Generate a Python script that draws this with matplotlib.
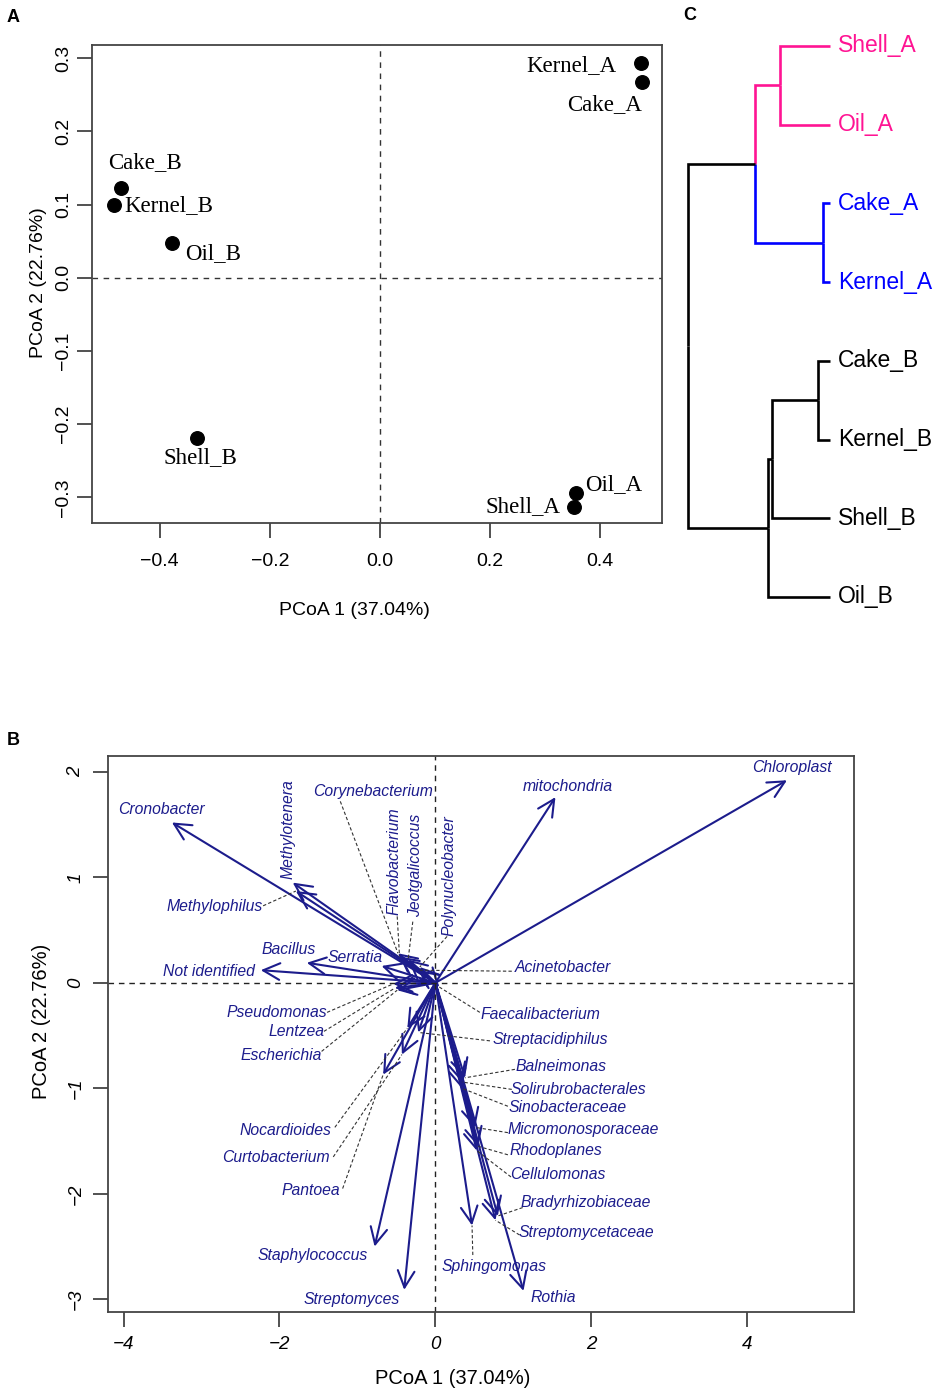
import numpy as np
import matplotlib
matplotlib.use('Agg')
import matplotlib.pyplot as plt
from matplotlib.patches import FancyArrowPatch

plt.rcParams['font.family'] = ['Liberation Sans', 'DejaVu Sans']

# ---- panel A: PCoA of samples ----
samples = ['Kernel_A', 'Cake_A', 'Cake_B', 'Kernel_B', 'Oil_B', 'Shell_B', 'Oil_A', 'Shell_A']
pc1 = [0.474, 0.475, -0.470, -0.483, -0.377, -0.332, 0.356, 0.352]
pc2 = [0.294, 0.267, 0.122, 0.099, 0.047, -0.219, -0.294, -0.313]
# label placement (data units)
lab_a_x = [0.348, 0.408, -0.426, -0.383, -0.303, -0.327, 0.425, 0.260]
lab_a_y = [0.290, 0.237, 0.158, 0.098, 0.033, -0.245, -0.283, -0.312]

# ---- panel C: dendrogram ----
leaves = ['Shell_A', 'Oil_A', 'Cake_A', 'Kernel_A', 'Cake_B', 'Kernel_B', 'Shell_B', 'Oil_B']
# merges: (child1, child2, height); node ids continue after the leaves
merges = [(0, 1, 0.352), (2, 3, 0.049), (8, 9, 0.53), (4, 5, 0.085),
          (11, 6, 0.408), (12, 7, 0.437), (10, 13, 1.0)]
pink = '#FF1493'
blue = '#0000FF'
edge_col = {0: pink, 1: pink, 8: pink, 2: blue, 3: blue, 9: blue}

# ---- panel B: biplot of taxa ----
taxa = ['Chloroplast', 'mitochondria', 'Cronobacter', 'Methylotenera', 'Methylophilus',
        'Corynebacterium', 'Flavobacterium', 'Jeotgalicoccus', 'Polynucleobacter',
        'Bacillus', 'Serratia', 'Not identified', 'Acinetobacter', 'Pseudomonas',
        'Lentzea', 'Escherichia', 'Faecalibacterium', 'Streptacidiphilus', 'Balneimonas',
        'Solirubrobacterales', 'Sinobacteraceae', 'Micromonosporaceae', 'Rhodoplanes',
        'Cellulomonas', 'Bradyrhizobiaceae', 'Streptomycetaceae', 'Sphingomonas', 'Rothia',
        'Staphylococcus', 'Streptomyces', 'Nocardioides', 'Curtobacterium', 'Pantoea']
tip_x = [4.51, 1.54, -3.38, -1.83, -1.79, -0.48, -0.46, -0.35, -0.20, -1.65, -0.69, -2.24,
         -0.22, -0.54, -0.52, -0.49, 0.05, -0.22, 0.38, 0.34, 0.34, 0.51, 0.55, 0.53, 0.80,
         0.77, 0.47, 1.13, -0.78, -0.40, -0.36, -0.43, -0.67]
tip_y = [1.92, 1.76, 1.52, 0.95, 0.87, 0.28, 0.25, 0.22, 0.15, 0.19, 0.16, 0.12, 0.12, -0.01,
         -0.05, -0.07, -0.04, -0.47, -0.90, -0.94, -1.00, -1.37, -1.55, -1.59, -2.21, -2.25,
         -2.30, -2.92, -2.50, -2.91, -0.43, -0.68, -0.87]
# label centres
lab_x = [4.57, 1.70, -3.51, -1.89, -2.83, -0.80, -0.53, -0.26, 0.17, -1.88, -1.03, -2.90,
         1.63, -2.04, -1.78, -1.98, 1.35, 1.47, 1.61, 1.84, 1.70, 1.89, 1.54, 1.57, 1.93,
         1.94, 0.75, 1.51, -1.57, -1.07, -1.92, -2.04, -1.60]
lab_y = [2.04, 1.86, 1.64, 1.46, 0.72, 1.81, 1.15, 1.11, 1.02, 0.32, 0.24, 0.11, 0.15, -0.28,
         -0.46, -0.69, -0.30, -0.54, -0.79, -1.01, -1.18, -1.39, -1.59, -1.82, -2.08, -2.37,
         -2.69, -2.98, -2.58, -3.00, -1.40, -1.66, -1.97]
lab_rot = [0, 0, 0, 90, 0, 0, 90, 90, 90] + [0] * 24
# start of the dashed leader next to the label (nan = no leader)
nan = np.nan
lead_x = [nan, nan, nan, nan, -2.21, -1.22, -0.49, -0.29, 0.15, nan, nan, nan, 0.98, -1.39,
          -1.43, -1.46, 0.57, 0.70, 1.02, 0.98, 0.93, 0.93, 0.93, 0.97, 1.12, 1.08, 0.48,
          nan, nan, nan, -1.29, -1.31, -1.19]
lead_y = [nan, nan, nan, nan, 0.73, 1.72, 0.63, 0.58, 0.44, nan, nan, nan, 0.11, -0.28,
          -0.46, -0.65, -0.28, -0.55, -0.82, -1.01, -1.17, -1.42, -1.63, -1.84, -2.13, -2.39,
          -2.58, nan, nan, nan, -1.37, -1.65, -1.95]

navy = '#1c1c8c'

fig = plt.figure(figsize=(9.35, 13.95), dpi=100)


def px_axes(l, t, r, b):
    return fig.add_axes([l / 935, 1 - b / 1395, (r - l) / 935, (b - t) / 1395])


def style_axes(ax, xpad, ypad, size):
    for s in ax.spines.values():
        s.set_color('#444444')
        s.set_linewidth(1.3)
    ax.tick_params(direction='out', length=10.5, width=1.2, color='#333333',
                   labelsize=size, labelcolor='black')
    ax.tick_params(axis='x', pad=xpad)
    ax.tick_params(axis='y', pad=ypad, labelrotation=90)
    for lab in ax.get_yticklabels():
        lab.set_va('center')


# ---------- A ----------
axA = px_axes(92, 45, 662, 523)
axA.axhline(0, color='#333333', lw=1, ls=(0, (4, 4)))
axA.axvline(0, color='#333333', lw=1, ls=(0, (4, 4)))
axA.scatter(pc1, pc2, s=95, c='black', zorder=3)
for i in range(len(samples)):
    axA.text(lab_a_x[i], lab_a_y[i], samples[i], family='Liberation Serif',
             fontsize=16.5, ha='center', va='center')
axA.set_xlim(-0.523, 0.512)
axA.set_ylim(-0.335, 0.318)
axA.set_xticks([-0.4, -0.2, 0.0, 0.2, 0.4])
axA.set_xticklabels(['\u22120.4', '\u22120.2', '0.0', '0.2', '0.4'])
axA.set_yticks([-0.3, -0.2, -0.1, 0.0, 0.1, 0.2, 0.3])
axA.set_yticklabels(['\u22120.3', '\u22120.2', '\u22120.1', '0.0', '0.1', '0.2', '0.3'])
style_axes(axA, 11, 4, 14)
axA.text(0.461, -0.184, 'PCoA 1 (37.04%)', transform=axA.transAxes, fontsize=14,
         ha='center', va='center')
axA.text(-0.0945, 0.502, 'PCoA 2 (22.76%)', transform=axA.transAxes, fontsize=14,
         ha='center', va='center', rotation=90)

# ---------- C ----------
axC = px_axes(680, 0, 935, 620)
axC.axis('off')
axC.set_xlim(1.056, -0.739)
axC.set_ylim(7.293, -0.584)
pos = {i: (0.0, float(i)) for i in range(len(leaves))}
for k, (c1, c2, h) in enumerate(merges):
    node = len(leaves) + k
    ymid = (pos[c1][1] + pos[c2][1]) / 2
    for c in (c1, c2):
        hc, yc = pos[c]
        axC.plot([h, h, hc], [ymid, yc, yc], color=edge_col.get(c, 'black'), lw=1.9,
                 solid_capstyle='butt', solid_joinstyle='miter')
    pos[node] = (h, ymid)
for i, name in enumerate(leaves):
    axC.text(-0.056, i, name, fontsize=16.5, ha='left', va='center',
             color=edge_col.get(i, 'black'))

# ---------- B ----------
axB = px_axes(108, 756, 854, 1312)
axB.axhline(0, color='#222222', lw=1, ls=(0, (4, 3.5)))
axB.axvline(0, color='#222222', lw=1, ls=(0, (4, 3.5)))
for i in range(len(taxa)):
    if not np.isnan(lead_x[i]):
        axB.plot([lead_x[i], tip_x[i]], [lead_y[i], tip_y[i]], color='#333333', lw=0.8,
                 ls=(0, (3, 2)))
for i in range(len(taxa)):
    arr = FancyArrowPatch((0, 0), (tip_x[i], tip_y[i]),
                          arrowstyle='->,head_length=0.6,head_width=0.3',
                          mutation_scale=20, lw=1.5, color=navy, shrinkA=0, shrinkB=0)
    axB.add_patch(arr)
    axB.text(lab_x[i], lab_y[i], taxa[i], fontsize=11.3, style='italic', color=navy,
             ha='center', va='center', rotation=lab_rot[i])
axB.set_xlim(-4.20, 5.37)
axB.set_ylim(-3.12, 2.15)
axB.set_xticks([-4, -2, 0, 2, 4])
axB.set_xticklabels(['\u22124', '\u22122', '0', '2', '4'])
axB.set_yticks([-3, -2, -1, 0, 1, 2])
axB.set_yticklabels(['\u22123', '\u22122', '\u22121', '0', '1', '2'])
style_axes(axB, 7, 6.5, 13.5)
for lab in axB.get_xticklabels() + axB.get_yticklabels():
    lab.set_style('italic')
axB.text(0.4625, -0.119, 'PCoA 1 (37.04%)', transform=axB.transAxes, fontsize=14.5,
         ha='center', va='center')
axB.text(-0.0885, 0.523, 'PCoA 2 (22.76%)', transform=axB.transAxes, fontsize=14.5,
         ha='center', va='center', rotation=90)

# panel letters
fig.text(13 / 935, 1 - 17 / 1395, 'A', fontsize=13, fontweight='bold', ha='center', va='center')
fig.text(13 / 935, 1 - 741 / 1395, 'B', fontsize=13, fontweight='bold', ha='center', va='center')
fig.text(690 / 935, 1 - 16 / 1395, 'C', fontsize=13, fontweight='bold', ha='center', va='center')

fig.savefig('out.png', dpi=100)
